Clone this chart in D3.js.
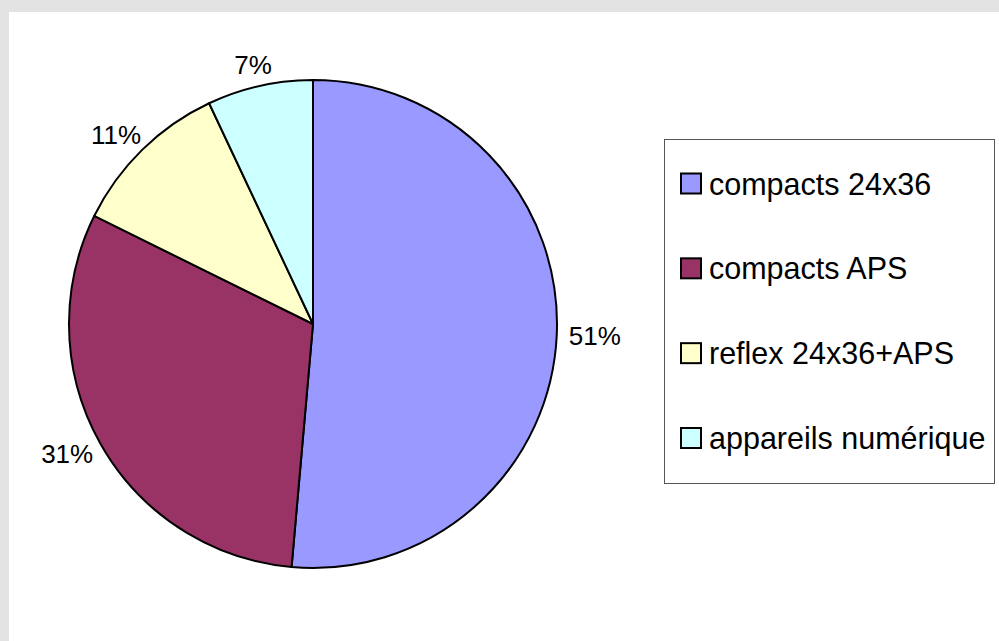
<!DOCTYPE html>
<html lang="fr">
<head>
  <meta charset="UTF-8">
  <title>appareils photo</title>
  <style>
    body { margin: 0; background: #e3e3e3; }
    svg { display: block; }
    text { font-family: "Liberation Sans", Arial, sans-serif; fill: #000; }
  </style>
</head>
<body>
  <script src="https://cdn.jsdelivr.net/npm/d3@7"></script>
  <script>
  var categories = ['compacts 24x36', 'compacts APS', 'reflex 24x36+APS', 'appareils numérique'];
  var values = [51.4, 30.9, 10.7, 7.0];
  var labels = ['51%', '31%', '11%', '7%'];
  var colors = ['#9999ff', '#993366', '#ffffcc', '#ccffff'];

  var w = 999, h = 641;
  var svg = d3.select('body').append('svg').attr('width', w).attr('height', h);

  // white plot area inside the grey frame
  svg.append('rect').attr('x', 9).attr('y', 12).attr('width', w - 9).attr('height', h - 12).attr('fill', '#fff');

  var cx = 313, cy = 324, r = 244;
  var data = categories.map(function (c, i) { return { name: c, value: values[i], label: labels[i], color: colors[i] }; });

  var pie = d3.pie().sort(null).value(function (d) { return d.value; });
  var arc = d3.arc().innerRadius(0).outerRadius(r);
  var arcs = pie(data);

  var g = svg.append('g').attr('transform', 'translate(' + cx + ',' + cy + ')');
  g.selectAll('path')
    .data(arcs)
    .enter()
    .append('path')
    .attr('d', arc)
    .attr('fill', function (d) { return d.data.color; })
    .attr('stroke', '#000')
    .attr('stroke-width', 2)
    .attr('stroke-linejoin', 'round');

  // labels outside the pie, pushed away from the edge by half their box
  var fs = 26;
  var capH = fs * 0.716;
  g.selectAll('text.lab')
    .data(arcs)
    .enter()
    .append('text')
    .attr('class', 'lab')
    .attr('font-size', fs)
    .text(function (d) { return d.data.label; })
    .each(function (d) {
      var a = (d.startAngle + d.endAngle) / 2;
      var rr = r + 12;
      var px = rr * Math.sin(a), py = -rr * Math.cos(a);
      var bw = this.getComputedTextLength();
      var mx = px + Math.sin(a) * bw / 2;
      var my = py - Math.cos(a) * capH / 2;
      d3.select(this)
        .attr('x', mx)
        .attr('y', my + capH / 2)
        .attr('text-anchor', 'middle');
    });

  // legend
  var lg = svg.append('g');
  lg.append('rect')
    .attr('x', 664.5).attr('y', 139.5)
    .attr('width', 330).attr('height', 344)
    .attr('fill', '#fff')
    .attr('stroke', '#555')
    .attr('stroke-width', 1);

  var ly = d3.scalePoint().domain(categories).range([183.5, 438]);
  var items = lg.selectAll('g.item')
    .data(data)
    .enter()
    .append('g')
    .attr('class', 'item')
    .attr('transform', function (d) { return 'translate(0,' + ly(d.name) + ')'; });

  items.append('rect')
    .attr('x', 681).attr('y', -10)
    .attr('width', 20).attr('height', 20)
    .attr('fill', function (d) { return d.color; })
    .attr('stroke', '#000')
    .attr('stroke-width', 2);

  items.append('text')
    .attr('x', 709)
    .attr('y', 11)
    .attr('font-size', 30.5)
    .text(function (d) { return d.name; });
  </script>
</body>
</html>
